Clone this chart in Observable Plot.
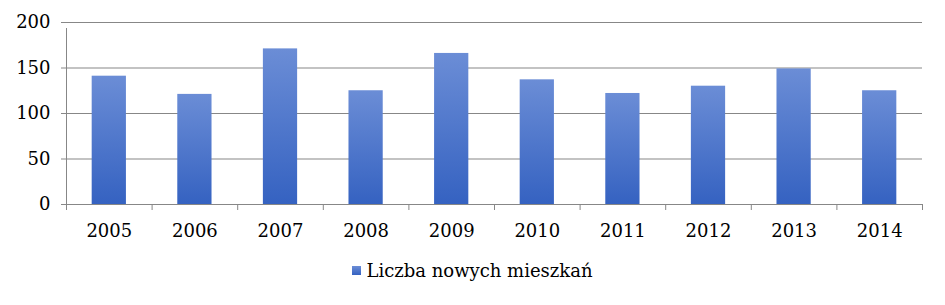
<!DOCTYPE html>
<html>
<head>
<meta charset="utf-8">
<script src="https://cdn.jsdelivr.net/npm/d3@7"></script>
<script src="https://cdn.jsdelivr.net/npm/@observablehq/plot@0.6"></script>
<style>
  html, body { margin: 0; padding: 0; background: #fff; }
  #chart { width: 945px; }
  .legend { font-family: "DejaVu Serif", serif; font-size: 18px; color: #000;
            display: flex; justify-content: center; align-items: center; height: 40px; margin-top: 0px; }
  .legend .sw { width: 9px; height: 9px; background: linear-gradient(#6b8dd6, #3562c1); margin-right: 5px; }
</style>
</head>
<body>
<div id="chart"></div>
<script>
const years = [2005, 2006, 2007, 2008, 2009, 2010, 2011, 2012, 2013, 2014];
const values = [141, 121, 171, 125, 166, 137, 122, 130, 149, 125];
const yTicks = [0, 50, 100, 150, 200];
const seriesName = "Liczba nowych mieszkań";

const data = years.map((y, i) => ({year: y, value: values[i]}));
const boundaries = [years[0] - 0.5, ...years.map(y => y + 0.5)];
const half = 0.2;

const defs = () => {
  const d = d3.create("svg:defs");
  const g = d.append("linearGradient").attr("id", "barGrad").attr("x1", 0).attr("y1", 0).attr("x2", 0).attr("y2", 1);
  g.append("stop").attr("offset", "0%").attr("stop-color", "#6b8dd6");
  g.append("stop").attr("offset", "100%").attr("stop-color", "#3562c1");
  return d.node();
};

const grid = "#878787";
const chart = Plot.plot({
  width: 945,
  height: 250,
  marginLeft: 66,
  marginRight: 23,
  marginTop: 22,
  marginBottom: 46,
  style: {fontFamily: "DejaVu Serif, serif", fontSize: "18px", color: "#000", background: "#fff"},
  x: {type: "linear", domain: [boundaries[0], boundaries[boundaries.length - 1]]},
  y: {domain: [0, 200]},
  marks: [
    defs,
    Plot.gridY(yTicks.filter(t => t > 0), {stroke: grid, strokeOpacity: 1}),
    Plot.rectY(data, {x1: d => d.year - half, x2: d => d.year + half, y: "value", fill: "url(#barGrad)"}),
    Plot.ruleY([0], {stroke: grid}),
    Plot.ruleX([boundaries[0]], {y1: 0, y2: 200, stroke: grid, insetBottom: -6}),
    Plot.axisY({ticks: yTicks, tickSize: 5, tickPadding: 11, stroke: grid, label: null, fontSize: 18}),
    Plot.axisX({ticks: boundaries, tickSize: 6, tickFormat: () => "", stroke: grid, label: null}),
    Plot.axisX({ticks: years, tickSize: 0, tickPadding: 20, tickFormat: d => String(d), label: null, fontSize: 18})
  ]
});
document.getElementById("chart").appendChild(chart);

const legend = document.createElement("div");
legend.className = "legend";
legend.innerHTML = `<span class="sw"></span><span></span>`;
legend.lastChild.textContent = seriesName;
document.getElementById("chart").appendChild(legend);
</script>
</body>
</html>
